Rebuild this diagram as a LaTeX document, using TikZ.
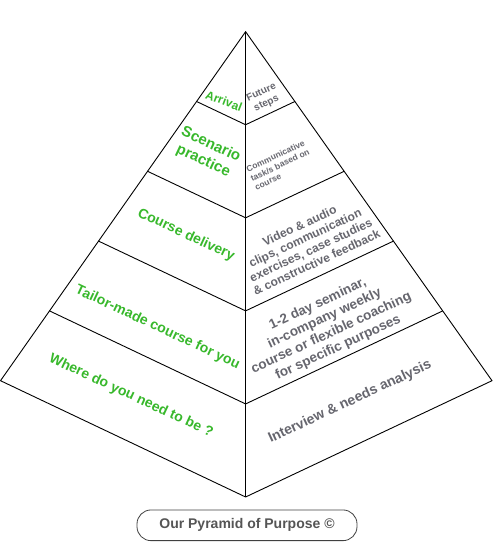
\documentclass[tikz,border=0pt]{standalone}
\usepackage{fontspec}
\setmainfont{Liberation Sans}
\usetikzlibrary{calc}
\definecolor{lvgreen}{RGB}{56,184,44}
\definecolor{lvgray}{RGB}{102,102,110}
\definecolor{boxtext}{RGB}{85,85,85}
\tikzset{
  edge/.style={draw=black, line width=0.9pt, line join=miter},
  lefttext/.style={text=lvgreen, font=\bfseries, inner sep=0pt, align=center, rotate=-25},
  righttext/.style={text=lvgray, font=\bfseries, inner sep=0pt, align=center, rotate=25},
}
\begin{document}
\begin{tikzpicture}[x=1pt,y=1pt]
\useasboundingbox (0,0) rectangle (493,548);
\coordinate (A) at (245.6,516.3);
\coordinate (L) at (0.5,167.3);
\coordinate (R) at (492,167.3);
\coordinate (C) at (245.6,51);
\draw[edge] (A) -- (L) -- (C) -- (R) -- cycle;
\draw[edge] (A) -- (C);
\foreach \k [count=\i] in {0.2,0.4,0.6,0.8}{
  \coordinate (l\i) at ($(A)!\k!(L)$);
  \coordinate (c\i) at ($(A)!\k!(C)$);
  \coordinate (r\i) at ($(A)!\k!(R)$);
  \draw[edge] (l\i) -- (c\i) -- (r\i);
}
% left face (green)
\node[lefttext, font=\bfseries\fontsize{12}{13}\selectfont, rotate=4] (arr) at (224,447) {Arrival};
\node[lefttext, font=\bfseries\fontsize{15}{18}\selectfont] (scen) at (207,395) {Scenario\\practice};
\node[lefttext, font=\bfseries\fontsize{14}{15}\selectfont] (deliv) at (186,313) {Course delivery};
\node[lefttext, font=\bfseries\fontsize{14}{15}\selectfont] (tail) at (157.5,220.5) {Tailor-made course for you};
\node[lefttext, font=\bfseries\fontsize{14}{15}\selectfont] (where) at (131,152) {Where do you need to be ?};
% right face (gray)
\node[righttext, font=\bfseries\fontsize{10}{12}\selectfont] (fut) at (264,450) {Future\\steps};
\node[righttext, font=\bfseries\fontsize{8.5}{10}\selectfont, align=left] (comm) at (280,383) {Communicative\\task/s based on\\course};
\node[righttext, font=\bfseries\fontsize{12}{13.5}\selectfont] (video) at (308,304) {Video \& audio\\clips, communication\\exercises, case studies\\\& constructive feedback};
\node[righttext, font=\bfseries\fontsize{13.5}{16}\selectfont] (sem) at (328,222) {1-2 day seminar,\\in-company weekly\\course or flexible coaching\\for specific purposes};
\node[righttext, font=\bfseries\fontsize{14}{15}\selectfont] (inter) at (350,146) {Interview \& needs analysis};
% caption
\node[draw=black!75, line width=0.8pt, rounded corners=14pt, minimum width=220pt, minimum height=30.7pt,
      text=boxtext, font=\bfseries\fontsize{14}{15}\selectfont, inner sep=0pt] (cap) at (247,22.7) {Our Pyramid of Purpose ©};
\end{tikzpicture}
\end{document}
